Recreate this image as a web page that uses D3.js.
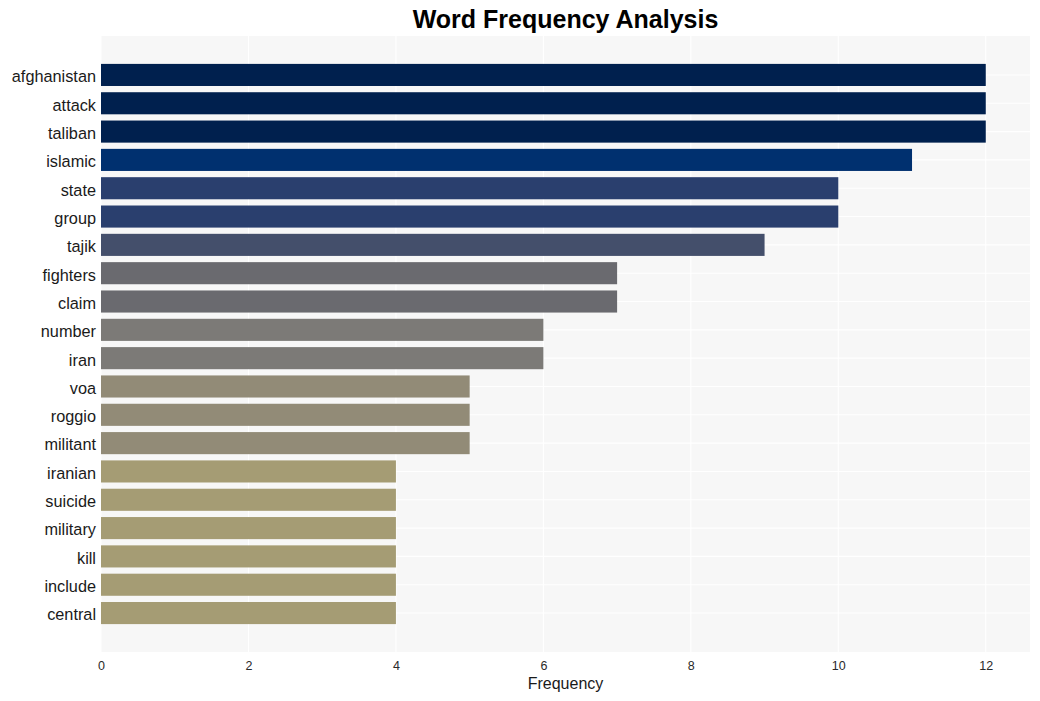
<!DOCTYPE html>
<html>
<head>
<meta charset="utf-8">
<script src="https://cdn.jsdelivr.net/npm/d3@7/dist/d3.min.js"></script>
<style>
  html, body { margin: 0; padding: 0; background: #ffffff; }
  svg { display: block; font-family: "Liberation Sans", Arial, sans-serif; }
</style>
</head>
<body>
<svg id="chart" width="1040" height="701"></svg>
<script>
const words = ["afghanistan","attack","taliban","islamic","state","group","tajik","fighters","claim","number","iran","voa","roggio","militant","iranian","suicide","military","kill","include","central"];
const counts = [12,12,12,11,10,10,9,7,7,6,6,5,5,5,4,4,4,4,4,4];
const xTicks = [0,2,4,6,8,10,12];
const levelValues = [12,11,10,9,7,6,5,4];
const levelColors = ["#00204e","#00306f","#2a3f6e","#444f6b","#6a6a6f","#7c7a77","#928b77","#a59c74"];

const W = 1040, H = 701;
const margin = { top: 36, right: 10, bottom: 49, left: 101 };
const pw = W - margin.left - margin.right;
const ph = H - margin.top - margin.bottom;

const svg = d3.select("#chart");
const g = svg.append("g").attr("transform", `translate(${margin.left},${margin.top})`);

const x = d3.scaleLinear().domain([0, d3.max(counts) * 1.05]).range([0, pw]);
const y = d3.scalePoint().domain(words).range([0, ph]).padding(1.375);
const barH = y.step() * 0.78;
const color = d3.scaleOrdinal().domain(levelValues).range(levelColors);

// panel
g.append("rect").attr("width", pw).attr("height", ph).attr("fill", "#f7f7f7");

// grid
g.selectAll(".vgrid").data(xTicks).enter().append("line")
  .attr("x1", d => x(d)).attr("x2", d => x(d))
  .attr("y1", 0).attr("y2", ph)
  .attr("stroke", "#ffffff").attr("stroke-width", 1.1);
g.selectAll(".hgrid").data(words).enter().append("line")
  .attr("x1", 0).attr("x2", pw)
  .attr("y1", d => y(d)).attr("y2", d => y(d))
  .attr("stroke", "#ffffff").attr("stroke-width", 1.1);

// bars
g.selectAll(".bar").data(words).enter().append("rect")
  .attr("x", x(0))
  .attr("y", d => y(d) - barH / 2)
  .attr("width", (d, i) => x(counts[i]) - x(0))
  .attr("height", barH)
  .attr("fill", (d, i) => color(counts[i]));

// y axis labels
const yAxis = d3.axisLeft(y).tickSize(0).tickPadding(5);
const yg = g.append("g").call(yAxis);
yg.select(".domain").remove();
yg.selectAll("text").attr("font-size", 16.3).attr("dy", "0.42em").attr("fill", "#1a1a1a").attr("font-family", "Liberation Sans, Arial, sans-serif");

// x axis
const xAxis = d3.axisBottom(x).tickValues(xTicks).tickSize(0).tickPadding(9).tickFormat(d3.format("d"));
const xg = g.append("g").attr("transform", `translate(0,${ph})`).call(xAxis);
xg.select(".domain").remove();
xg.selectAll("text").attr("font-size", 12.5).attr("fill", "#2a2a2a").attr("font-family", "Liberation Sans, Arial, sans-serif");

// x axis title
svg.append("text")
  .attr("x", margin.left + pw / 2).attr("y", 689)
  .attr("text-anchor", "middle").attr("font-size", 16).attr("fill", "#1a1a1a")
  .text("Frequency");

// title
svg.append("text")
  .attr("x", margin.left + pw / 2).attr("y", 28)
  .attr("text-anchor", "middle").attr("font-size", 25).attr("font-weight", "bold").attr("fill", "#000")
  .text("Word Frequency Analysis");
</script>
</body>
</html>
